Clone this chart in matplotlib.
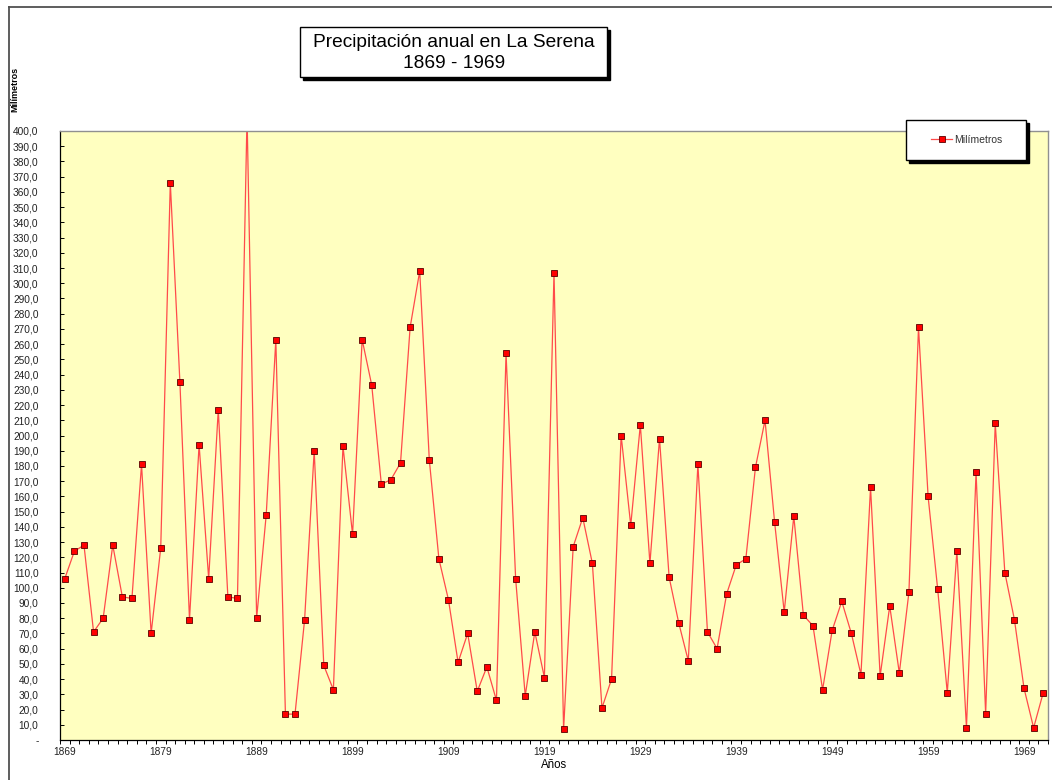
import numpy as np
import matplotlib.pyplot as plt
from matplotlib.patches import Rectangle
from matplotlib.lines import Line2D
from matplotlib.ticker import FuncFormatter, MultipleLocator

plt.rcParams['font.family'] = ['Liberation Sans', 'DejaVu Sans']

# ---- data (precipitación anual, mm) ----
years = list(range(1869, 1972))
mm = [106, 124, 128, 71, 80, 128, 94, 93, 181, 70,
      126, 366, 235, 79, 194, 106, 217, 94, 93, 410,
      80, 148, 263, 17, 17, 79, 190, 49, 33, 193,
      135, 263, 233, 168, 171, 182, 271, 308, 184, 119,
      92, 51, 70, 32, 48, 26, 254, 106, 29, 71,
      41, 307, 7, 127, 146, 116, 21, 40, 200, 141,
      207, 116, 198, 107, 77, 52, 181, 71, 60, 96,
      115, 119, 179, 210, 143, 84, 147, 82, 75, 33,
      72, 91, 70, 43, 166, 42, 88, 44, 97, 271,
      160, 99, 31, 124, 8, 176, 17, 208, 110, 79,
      34, 8, 31]
label_years = list(range(1869, 1970, 10))

W, H = 1052, 780
fig = plt.figure(figsize=(W / 100, H / 100), dpi=100)


def fx(px):
    return px / W


def fy(py):
    return 1 - py / H


# ---- plot area ----
ax = fig.add_axes([fx(60), fy(740), fx(1048) - fx(60), fy(131) - fy(740)])
ax.set_facecolor('#FFFFC0')
ax.plot(years, mm, color='#FF4A4A', lw=0.9, marker='s', ms=4.6,
        mfc='#FF0000', mec='#5a0000', mew=0.6, label='Milímetros')

ax.set_xlim(years[0] - 0.5, years[-1] + 0.5)
ax.set_ylim(0, 400)
ax.yaxis.set_major_locator(MultipleLocator(10))
ax.yaxis.set_major_formatter(FuncFormatter(
    lambda v, p: '-' if abs(v) < 1e-9 else f'{v:.1f}'.replace('.', ',')))
ax.set_xticks(label_years)
ax.set_xticklabels([str(y) for y in label_years])
ax.set_xticks(np.arange(years[0] - 0.5, years[-1] + 1), minor=True)
ax.tick_params(axis='x', which='major', length=0, pad=5, labelsize=7.3, colors='#222222')
ax.tick_params(axis='x', which='minor', length=3, direction='out', width=0.7)
ax.tick_params(axis='y', which='major', length=3, direction='in', width=0.7,
               pad=15.5, labelsize=7.3, colors='black', labelcolor='#222222')

for s in ['top', 'right']:
    ax.spines[s].set_color('#909090')
    ax.spines[s].set_linewidth(1.0)
for s in ['left', 'bottom']:
    ax.spines[s].set_color('black')
    ax.spines[s].set_linewidth(0.9)

ax.set_xlabel('Años', fontsize=8.3, va='top')
ax.xaxis.set_label_coords(0.5, -0.032)

fig.text(fx(15), fy(89), 'Milímetros', rotation=90, fontsize=6.5,
         fontweight='bold', ha='center', va='center')

# ---- outer chart frame ----
fig.add_artist(Line2D([fx(9), fx(9)], [fy(7), 0], color='#505050', lw=1.3))
fig.add_artist(Line2D([fx(9), 1], [fy(7), fy(7)], color='#505050', lw=1.3))

# ---- title box ----
fig.add_artist(Rectangle((fx(303), fy(80)), fx(307), 50 / H,
                         transform=fig.transFigure, facecolor='black',
                         edgecolor='black', zorder=2))
fig.add_artist(Rectangle((fx(300), fy(77)), fx(307), 50 / H,
                         transform=fig.transFigure, facecolor='white',
                         edgecolor='black', lw=1.0, zorder=3))
fig.text(fx(454), fy(53), 'Precipitación anual en La Serena\n1869 - 1969',
         ha='center', va='center', fontsize=13.8, linespacing=1.35, zorder=4)

# ---- legend box ----
fig.add_artist(Rectangle((fx(909), fy(163)), fx(120), 40 / H,
                         transform=fig.transFigure, facecolor='black',
                         edgecolor='black', zorder=2))
fig.add_artist(Rectangle((fx(906), fy(160)), fx(120), 40 / H,
                         transform=fig.transFigure, facecolor='white',
                         edgecolor='black', lw=1.0, zorder=3))
handles, labels = ax.get_legend_handles_labels()
leg = fig.legend(handles, labels, loc='center', bbox_to_anchor=(fx(967), fy(140)),
                 bbox_transform=fig.transFigure, frameon=False, fontsize=7.5,
                 handlelength=2, handletextpad=0.2, borderpad=0)
leg.set_zorder(6)
for t in leg.get_texts():
    t.set_color('#333333')

fig.savefig('out.png', dpi=100)
